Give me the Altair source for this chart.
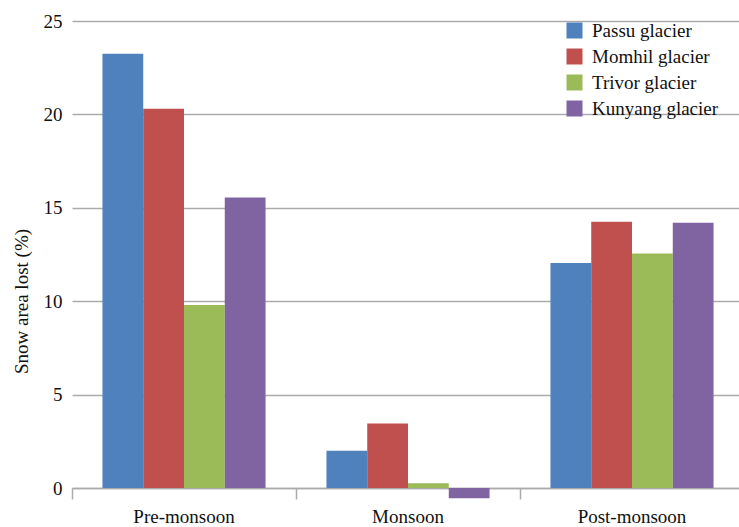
import altair as alt
import pandas as pd

# Seasonal snow-area loss per glacier (%)
seasons = ["Pre-monsoon", "Monsoon", "Post-monsoon"]
glaciers = ["Passu glacier", "Momhil glacier", "Trivor glacier", "Kunyang glacier"]
passu = [23.25, 2.0, 12.05]
momhil = [20.3, 3.45, 14.25]
trivor = [9.8, 0.25, 12.55]
kunyang = [15.55, -0.55, 14.2]
colors = ["#4F81BD", "#C0504D", "#9BBB59", "#8064A2"]
y_ticks = [0, 5, 10, 15, 20, 25]

series = [passu, momhil, trivor, kunyang]
rows = []
for g, vals in zip(glaciers, series):
    for s, v in zip(seasons, vals):
        rows.append({"season": s, "glacier": g, "value": v})
df = pd.DataFrame(rows)

FONT = "'Times New Roman', 'Liberation Serif', 'DejaVu Serif', serif"
GRID = "#ABABAB"
P_IN = 0.272
P_OUT = P_IN / 2

bars = alt.Chart(df).mark_bar(clip=False).encode(
    x=alt.X(
        "season:N",
        sort=seasons,
        scale=alt.Scale(range=[0, 672], paddingInner=P_IN, paddingOuter=P_OUT),
        axis=alt.Axis(
            title=None,
            # ticks sit on the category boundaries, outside the bar groups
            bandPosition=-P_OUT / (1 - P_IN),
            labelAngle=0,
            ticks=True,
            tickSize=11,
            tickColor=GRID,
            tickWidth=1.5,
            domainColor=GRID,
            domainWidth=1.5,
            grid=False,
            labelFont=FONT,
            labelFontSize=19,
            labelColor="#111111",
            labelPadding=8,
        ),
    ),
    xOffset=alt.XOffset(
        "glacier:N", sort=glaciers, scale=alt.Scale(paddingInner=0, paddingOuter=0)
    ),
    y=alt.Y(
        "value:Q",
        scale=alt.Scale(domain=[0, 25], nice=False, zero=True),
        axis=alt.Axis(
            values=y_ticks,
            title="Snow area lost (%)",
            titleFont=FONT,
            titleFontSize=19,
            titleFontWeight="normal",
            titleColor="#111111",
            titleX=-51,
            titleY=280,
            titleBaseline="middle",
            titleAlign="center",
            domain=False,
            ticks=False,
            grid=True,
            gridColor=GRID,
            gridWidth=1.5,
            labelFont=FONT,
            labelFontSize=19,
            labelColor="#111111",
            labelPadding=10,
        ),
    ),
    color=alt.Color(
        "glacier:N",
        sort=glaciers,
        scale=alt.Scale(domain=glaciers, range=colors),
        legend=alt.Legend(
            title=None,
            orient="none",
            legendX=493,
            legendY=0,
            symbolType="square",
            symbolSize=256,
            symbolStrokeWidth=0,
            symbolOpacity=1,
            labelFont=FONT,
            labelFontSize=19,
            labelColor="#111111",
            labelOffset=8,
            rowPadding=6,
            padding=0,
        ),
    ),
)

chart = bars.properties(
    width=667,
    height=467,
    autosize=alt.AutoSizeParams(type="none"),
    padding={"left": 72, "top": 21, "right": 0, "bottom": 39},
    background="white",
).configure_view(stroke=None)

chart.save("out.html", embed_options={"renderer": "svg", "actions": False})
